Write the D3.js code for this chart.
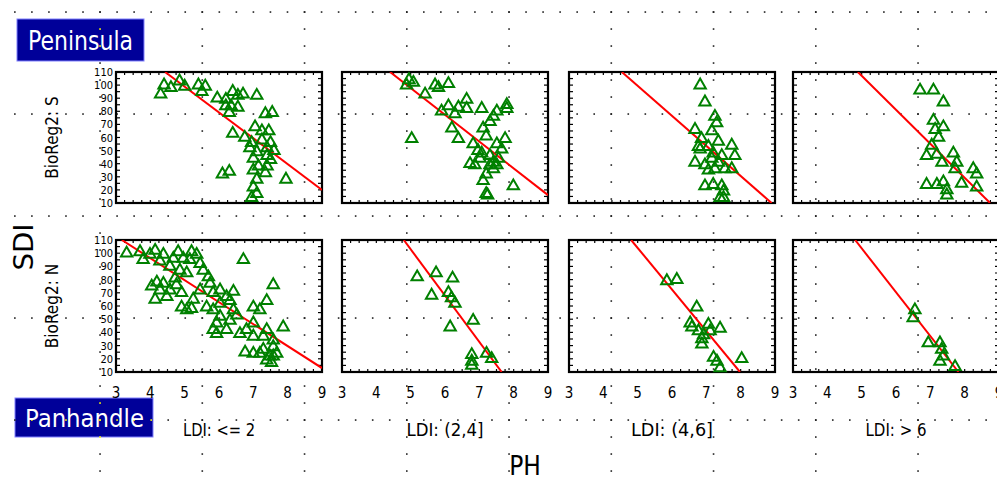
<!DOCTYPE html>
<html><head><meta charset="utf-8">
<script src="https://cdn.jsdelivr.net/npm/d3@7/dist/d3.min.js"></script>
<style>html,body{margin:0;padding:0;background:#fff;} svg{display:block}</style>
</head><body><svg id="c" width="997" height="486"></svg>
<script>
// ---------------- data ----------------
const ldiLabels = ["LDI: <= 2", "LDI: (2,4]", "LDI: (4,6]", "LDI: > 6"];
const regionLabels = ["BioReg2: S", "BioReg2: N"];
const groupLabels = ["Peninsula", "Panhandle"];
const xTicks = [3, 4, 5, 6, 7, 8, 9];
const yTicks = [10, 20, 30, 40, 50, 60, 70, 80, 90, 100, 110];
const xLabel = "PH";
const yLabel = "SDI";

// Peninsula (BioReg2: S) — [PH, SDI]
const south_ldi1 = [[4.4,100],[4.3,93],[4.6,98],[4.85,103],[5.0,99],[5.4,100],[5.5,95],[5.6,99],[5.95,90],[6.2,89],
  [6.4,95],[6.55,92],[6.7,93],[6.2,84],[6.35,84],[6.3,79],[6.55,83],[7.1,92],[7.35,78],[7.55,79],[6.4,63],[6.75,60],
  [7.05,68],[7.25,65],[6.95,56],[7.25,58],[7.45,65],[7.4,52],[7.1,49],[7.4,46],[7.5,43],[6.3,34],[6.1,32],[7.0,35],
  [7.1,28],[7.0,22],[7.1,17],[7.4,38],[7.35,33],[7.95,28],[7.5,56],[7.6,50],[7.0,44],[6.9,52],[7.15,38],[6.95,14]];
const south_ldi2 = [[4.88,100],[5.08,102],[4.95,104],[5.42,93],[5.71,100],[5.81,98],[6.1,101],[5.03,59],[5.9,80],
  [6.1,84],[6.39,83],[6.29,78],[6.63,89],[6.63,82],[7.07,82],[6.2,67],[6.39,59],[6.82,55],[6.96,50],[7.11,67],
  [7.2,61],[7.31,72],[7.41,76],[7.51,80],[7.8,85],[7.8,82],[7.75,59],[7.65,51],[7.56,44],[7.41,41],[7.31,39],
  [7.2,32],[7.11,27],[7.2,17],[7.24,16],[6.73,40],[6.87,39],[7.02,44],[7.99,23],[7.51,55],[7.31,46],[7.41,36],
  [7.07,48],[7.51,39]];
const south_ldi3 = [[6.82,100],[6.96,87],[7.25,76],[7.3,71],[6.67,66],[7.16,65],[6.86,59],[6.77,53],[7.06,53],
  [7.35,57],[7.74,54],[7.83,46],[6.67,41],[6.96,39],[7.16,44],[7.35,41],[7.45,46],[7.54,36],[7.74,36],[7.25,36],
  [7.06,35],[6.96,23],[7.2,24],[7.45,23],[7.5,19],[7.4,14],[7.5,14],[7.2,48],[6.82,51]];
const south_ldi4 = [[6.7,96],[7.09,96],[7.38,87],[7.09,73],[7.38,68],[7.14,66],[7.24,60],[6.89,46],[7.19,47],
  [7.34,41],[7.67,48],[7.77,41],[7.72,36],[8.25,36],[8.35,32],[7.91,25],[8.35,22],[6.89,24],[7.19,24],[7.38,26],
  [7.48,20],[7.48,16],[7.04,54]];

// Panhandle (BioReg2: N) — [PH, SDI]
const north_ldi1 = [[3.31,100],[3.7,101],[3.79,95],[3.99,99],[4.14,102],[4.38,99],[4.28,94],[4.67,96],[4.81,101],
  [4.96,96],[5.2,101],[5.15,95],[5.35,99],[4.57,90],[4.86,87],[5.06,85],[5.45,92],[5.54,87],[5.69,82],[4.04,75],
  [4.19,78],[4.28,72],[4.14,65],[4.57,72],[4.76,76],[4.91,70],[4.48,67],[4.38,77],[4.72,81],[4.91,59],[5.06,57],
  [5.2,58],[5.25,65],[5.45,72],[5.74,77],[5.83,70],[6.03,72],[6.22,67],[6.42,71],[6.32,64],[6.03,62],[5.64,59],
  [5.83,57],[6.03,52],[5.93,47],[6.32,49],[6.52,53],[6.71,95],[6.42,57],[5.83,42],[5.93,39],[6.22,42],[6.61,39],
  [6.8,42],[7.0,47],[7.19,57],[7.0,59],[7.39,64],[7.58,76],[7.0,37],[7.29,37],[7.39,42],[7.58,34],[7.87,44],
  [7.58,29],[7.29,27],[7.19,24],[7.0,24],[6.76,25],[7.48,22],[7.58,22],[7.53,17],[7.39,19],[7.68,24]];
const north_ldi2 = [[5.19,82],[5.74,85],[6.22,81],[5.61,68],[6.1,70],[6.19,66],[6.29,62],[6.15,44],[6.82,49],
  [6.78,23],[6.78,18],[6.78,15],[7.21,24],[7.36,20]];
const north_ldi3 = [[5.85,79],[6.14,80],[6.72,59],[6.53,47],[6.58,44],[6.77,41],[6.87,35],[6.87,31],[7.06,46],
  [7.11,41],[7.4,43],[7.21,21],[7.31,18],[7.4,13],[8.03,20],[6.92,38]];
const north_ldi4 = [[6.55,57],[6.5,51],[6.94,32],[7.28,32],[7.33,27],[7.28,18],[7.72,14],[7.38,22]];

// fitted lines [x1, y1, x2, y2]
const fitSouth = [[4.43,110,9,20],[4.4,110,9,16],[4.54,110,8.9,10],[4.89,110,8.74,10]];
const fitNorth = [[3.17,110,9,13],[4.8,110,7.65,10],[4.81,110,7.98,10],[4.81,110,7.82,10]];

const panelData = [[south_ldi1, south_ldi2, south_ldi3, south_ldi4],
                   [north_ldi1, north_ldi2, north_ldi3, north_ldi4]];
const fits = [fitSouth, fitNorth];

// ---------------- layout ----------------
const svg = d3.select("#c");
const W = 997, H = 486;
const colX = [116, 342, 569, 793], pw = 206;
const rowY = [72, 240], rowH = [131, 132];
const FONT = "'Liberation Sans Narrow','DejaVu Sans Condensed','Liberation Sans',sans-serif";
const boxes = [{x:17,y:19,w:127,h:42}, {x:15,y:398,w:138,h:39}];

svg.append("rect").attr("width", W).attr("height", H).attr("fill", "#fff");

const x = d3.scaleLinear().domain([3, 9]).range([0, pw]);

// label boxes
boxes.forEach((b, i) => {
  svg.append("rect").attr("x", b.x).attr("y", b.y).attr("width", b.w).attr("height", b.h)
    .attr("fill", "#000099").attr("stroke", "#8080ff").attr("stroke-width", 1);
});

// dotted background grid
const gridRows = [12, 114, 216, 318, 420];
const gridCols = d3.range(9).map(i => 100 + i * 102.25);
const dotsG = svg.append("g");
function inBox(px, py) { return boxes.some(b => px >= b.x && px <= b.x + b.w && py >= b.y && py <= b.y + b.h); }
function dot(px, py) {
  dotsG.append("rect").attr("x", px - 0.75).attr("y", py - 0.75).attr("width", 1.6).attr("height", 1.6)
    .attr("fill", inBox(px, py) ? "#ffff00" : "#222");
}
gridRows.forEach(gy => { for (let gx = 100 - 17.04 * 6; gx < W; gx += 17.04) if (gx >= 0) dot(gx, gy); });
gridCols.forEach(gx => { for (let gy = 12; gy < H; gy += 17) dot(gx, gy); });

// panels
const tri = d3.symbol().type(d3.symbolTriangle).size(56);
for (let r = 0; r < 2; r++) {
  const y = d3.scaleLinear().domain([10, 110]).range([rowH[r], 0]);
  for (let c = 0; c < 4; c++) {
    const g = svg.append("g").attr("transform", `translate(${colX[c]},${rowY[r]})`);
    const cid = `clip${r}${c}`;
    g.append("clipPath").attr("id", cid).append("rect").attr("width", pw).attr("height", rowH[r]);
    // frame ticks
    const tg = g.append("g").attr("stroke", "#000").attr("stroke-width", 1.2);
    d3.range(3, 9.01, 0.25).forEach(v => {
      tg.append("line").attr("x1", x(v)).attr("x2", x(v)).attr("y1", 0).attr("y2", 3);
      tg.append("line").attr("x1", x(v)).attr("x2", x(v)).attr("y1", rowH[r]).attr("y2", rowH[r] - 3);
    });
    d3.range(10, 110.1, 5).forEach(v => {
      tg.append("line").attr("y1", y(v)).attr("y2", y(v)).attr("x1", 0).attr("x2", 4);
      tg.append("line").attr("y1", y(v)).attr("y2", y(v)).attr("x1", pw).attr("x2", pw - 4);
    });
    g.append("rect").attr("width", pw).attr("height", rowH[r]).attr("fill", "none")
      .attr("stroke", "#000").attr("stroke-width", 2.2);
    // fit line
    const f = fits[r][c];
    g.append("line").attr("clip-path", `url(#${cid})`)
      .attr("x1", x(f[0])).attr("y1", y(f[1])).attr("x2", x(f[2])).attr("y2", y(f[3]))
      .attr("stroke", "#ff0000").attr("stroke-width", 2);
    // points
    g.append("g").selectAll("path").data(panelData[r][c]).join("path")
      .attr("d", tri).attr("transform", d => `translate(${x(d[0])},${y(d[1])})`)
      .attr("fill", "none").attr("stroke", "#008000").attr("stroke-width", 2);
    // y tick labels on first column
    if (c === 0) {
      g.append("g").selectAll("text").data(yTicks).join("text")
        .attr("x", -3).attr("y", d => y(d) + 4).attr("text-anchor", "end")
        .attr("font-family", FONT).attr("font-size", 11).attr("fill", "#000").text(d => d);
    }
    // x tick labels on bottom row
    if (r === 1) {
      g.append("g").selectAll("text").data(xTicks).join("text")
        .attr("x", d => x(d)).attr("y", rowH[r] + 26).attr("text-anchor", "middle")
        .attr("font-family", FONT).attr("font-size", 15).attr("fill", "#000").text(d => d);
    }
  }
}

// strip labels (LDI)
const ldiW = [72, 77, 82, 61];
ldiLabels.forEach((t, i) => {
  svg.append("text").attr("x", colX[i] + pw / 2 - ldiW[i] / 2).attr("y", 436)
    .attr("font-family", FONT).attr("font-size", 18).attr("fill", "#000")
    .attr("textLength", ldiW[i]).attr("lengthAdjust", "spacingAndGlyphs").text(t);
});

// region labels (rotated)
const regCy = [rowY[0] + rowH[0] / 2, rowY[1] + rowH[1] / 2];
regionLabels.forEach((t, i) => {
  svg.append("text").attr("transform", `translate(58,${regCy[i]}) rotate(-90)`)
    .attr("text-anchor", "middle").attr("font-family", FONT).attr("font-size", 17).attr("fill", "#000").text(t);
});

// group labels in boxes
svg.append("text").attr("x", 28).attr("y", 50).attr("font-family", FONT).attr("font-size", 26)
  .attr("fill", "#fff").attr("textLength", 105).attr("lengthAdjust", "spacingAndGlyphs").text(groupLabels[0]);
svg.append("text").attr("x", 25).attr("y", 427).attr("font-family", FONT).attr("font-size", 25)
  .attr("fill", "#fff").attr("textLength", 119).attr("lengthAdjust", "spacingAndGlyphs").text(groupLabels[1]);

// axis titles
svg.append("text").attr("transform", "translate(33,247) rotate(-90)").attr("text-anchor", "middle")
  .attr("font-family", FONT).attr("font-size", 27).attr("fill", "#000")
  .attr("textLength", 47).attr("lengthAdjust", "spacingAndGlyphs").text(yLabel);
svg.append("text").attr("x", 525).attr("y", 475).attr("text-anchor", "middle")
  .attr("font-family", FONT).attr("font-size", 26).attr("fill", "#000").text(xLabel);
</script></body></html>
